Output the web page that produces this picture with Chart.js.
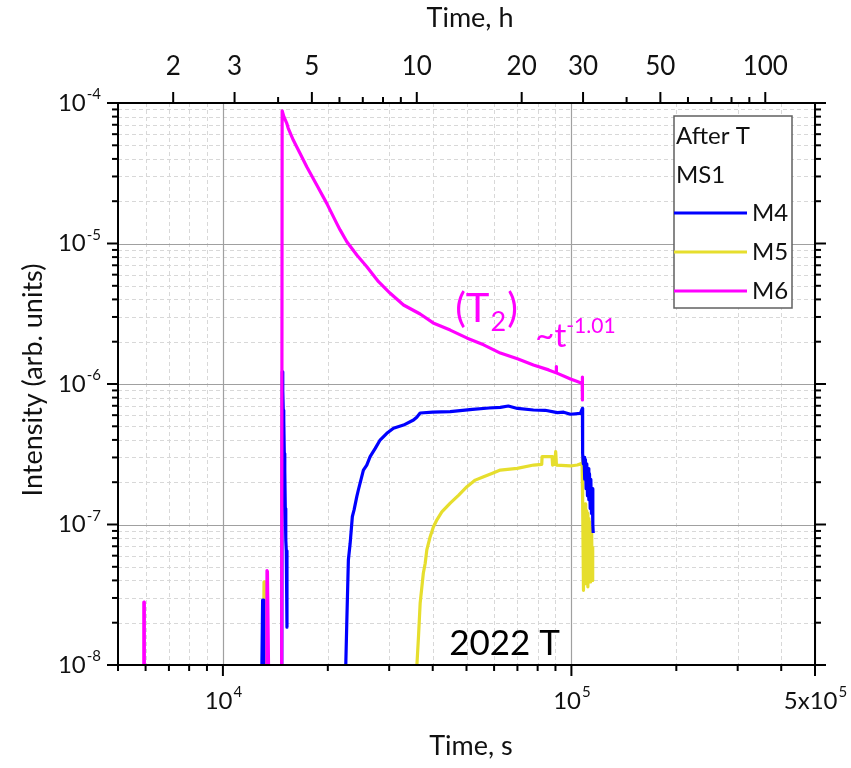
<!DOCTYPE html>
<html>
<head>
<meta charset="utf-8">
<script src="https://cdn.jsdelivr.net/npm/chart.js@4.4.1/dist/chart.umd.min.js"></script>
<style>
  body { margin: 0; background: #fff; }
  canvas { display: block; }
</style>
</head>
<body>
<canvas id="myChart" width="851" height="768"></canvas>
<script>
// time in s, intensity in arb. units (values below 1e-8 sit under the axis)
const m4Time = [12900, 13000, 13050, 13100, 14750, 14800, 14850, 14900, 14950, 15000, 15050, 15100, 15150, 15200, 15270, 15300,
  22450, 22520, 22680, 22910, 23180, 23520, 23790, 24220, 24470, 25300, 25870, 26450, 27360, 28250, 29530, 30860, 32980,
  35230, 36000, 36810, 40000, 44900, 52000, 58000, 62520, 65910, 70000, 77800, 84000, 91150, 95000, 99400, 106150, 107550,
  107700, 108200, 108700, 109200, 109700, 110200, 110700, 111200, 111700, 112200, 112700, 113200, 113700, 114200, 114700,
  115200, 115500];
const m4Int = [5e-9, 2.9e-8, 2.9e-8, 5e-9, 5e-9, 1.22e-6, 9e-7, 6.5e-7, 5.5e-7, 3.2e-7, 2.4e-7, 1.3e-7, 7.8e-8, 6.5e-8, 1.86e-8, null,
  5e-9, 1.0e-8, 2.09e-8, 5.59e-8, 7.35e-8, 1.14e-7, 1.27e-7, 1.58e-7, 1.76e-7, 2.44e-7, 2.65e-7, 3.04e-7, 3.48e-7, 3.99e-7, 4.46e-7, 4.84e-7, 5.1e-7,
  5.54e-7, 5.8e-7, 6.22e-7, 6.3e-7, 6.35e-7, 6.6e-7, 6.75e-7, 6.82e-7, 6.97e-7, 6.7e-7, 6.53e-7, 6.5e-7, 6.25e-7, 6.3e-7, 6.09e-7, 6.18e-7, 6.71e-7,
  3.2e-7, 2.7e-7, 3.0e-7, 2.1e-7, 2.9e-7, 1.8e-7, 2.7e-7, 1.6e-7, 2.5e-7, 1.5e-7, 2.3e-7, 1.3e-7, 2.1e-7, 1.2e-7, 1.8e-7,
  1.0e-7, 8.7e-8];

const m5Time = [13050, 13120, 13180, 13250, 35900, 36030, 36410, 36810, 37240, 37590, 38060, 38470, 39330, 40170, 41120, 42480,
  44900, 47490, 50150, 52980, 55980, 59130, 62520, 69870, 77950, 82200, 82380, 88030, 88300, 89600, 90130, 90600, 99400,
  104000, 107330, 107550, 107900, 108300, 108700, 109100, 109500, 109900, 110300, 110700, 111100, 111500, 111900, 112300,
  112700, 113100, 113500, 113900, 114300, 114700, 115100];
const m5Int = [5e-9, 3.9e-8, 3.5e-8, 5e-9, 5e-9, 1.0e-8, 1.59e-8, 2.75e-8, 3.61e-8, 4.5e-8, 5.3e-8, 6.6e-8, 8.19e-8, 9.6e-8, 1.08e-7, 1.23e-7,
  1.42e-7, 1.62e-7, 1.86e-7, 2.07e-7, 2.19e-7, 2.31e-7, 2.44e-7, 2.51e-7, 2.65e-7, 2.68e-7, 3.04e-7, 3.04e-7, 2.65e-7, 2.7e-7, 3.3e-7, 2.65e-7, 2.61e-7,
  2.65e-7, 2.73e-7, 3.04e-7, 1.4e-7, 3.4e-8, 1.3e-7, 5e-8, 1.4e-7, 3.8e-8, 1.25e-7, 4.6e-8, 1.2e-7, 3.6e-8, 1.1e-7, 4.2e-8,
  1.05e-7, 3.9e-8, 9.5e-8, 4.4e-8, 9e-8, 4e-8, 7e-8];

const m6Time = [5000, 5925, 5930, 5945, 5950, 13300, 13380, 13420, 13560, 14740, 14790, 14960, 15240, 15400, 15920, 16280, 16640,
  17400, 18590, 19860, 21210, 21690, 22680, 24220, 25880, 27960, 30200, 32980, 36810, 40120, 44900, 50240, 55980, 62520,
  70000, 77800, 86000, 90400, 90500, 90600, 99400, 104000, 107400, 107500, 107600];
const m6Int = [5e-9, 5e-9, 2.8e-8, 2.8e-8, 5e-9, 5e-9, 4.7e-8, 4.6e-8, 5e-9, 5e-9, 8.8e-5, 7.99e-5, 7.2e-5, 6.61e-5, 5.45e-5, 4.89e-5, 4.39e-5,
  3.52e-5, 2.61e-5, 1.93e-5, 1.39e-5, 1.25e-5, 1.03e-5, 8.28e-6, 6.84e-6, 5.35e-6, 4.42e-6, 3.65e-6, 3.15e-6, 2.72e-6, 2.42e-6, 2.12e-6, 1.9e-6, 1.66e-6,
  1.51e-6, 1.365e-6, 1.26e-6, 1.2e-6, 1.33e-6, 1.2e-6, 1.085e-6, 1.04e-6, 1.01e-6, 1.12e-6, 7.7e-7];

// axis ticks
const xTicks = [1e4, 1e5, 5e5];
const xTickMant = ["10", "10", "5x10"];
const xTickExp = ["4", "5", "5"];
const xMinorTicks = [5000, 6000, 7000, 8000, 9000, 20000, 30000, 40000, 50000, 60000, 70000, 80000, 90000, 200000, 300000, 400000];
const yTicks = [1e-8, 1e-7, 1e-6, 1e-5, 1e-4];
const yTickExp = ["-8", "-7", "-6", "-5", "-4"];
const hourTicks = [2, 3, 5, 10, 20, 30, 50, 100];
const hourMinorTicks = [4, 6, 7, 8, 9, 40, 60, 70, 80, 90];

const FONT = "Lato, 'Open Sans', sans-serif";
const MAGENTA = "rgb(255, 0, 255)";

const yMinorTicks = [];
yTicks.slice(0, -1).forEach((d) => {
  for (let k = 2; k <= 9; k++) yMinorTicks.push(d * k);
});

function pts(ts, vs) {
  return ts.map((t, i) => ({ x: t, y: vs[i] }));
}

function font(size) {
  return size + "px " + FONT;
}

// "10" with a raised exponent; align = left | center | right
function drawPow(ctx, mant, exp, x, y, align, size, supSize) {
  ctx.font = font(size);
  const w1 = ctx.measureText(mant).width;
  ctx.font = font(supSize);
  const w2 = ctx.measureText(exp).width;
  let x0 = x;
  if (align === "center") x0 = x - (w1 + w2) / 2;
  if (align === "right") x0 = x - (w1 + w2);
  ctx.textAlign = "left";
  ctx.textBaseline = "middle";
  ctx.font = font(size);
  ctx.fillText(mant, x0, y);
  ctx.font = font(supSize);
  ctx.fillText(exp, x0 + w1 + 1, y - size * 0.36);
}

function seg(ctx, x1, y1, x2, y2) {
  ctx.beginPath();
  ctx.moveTo(x1, y1);
  ctx.lineTo(x2, y2);
  ctx.stroke();
}

const axesPlugin = {
  id: "axes",
  beforeDatasetsDraw(chart) {
    const { ctx, chartArea: a } = chart;
    const sx = chart.scales.x, sy = chart.scales.y;
    ctx.save();
    ctx.lineWidth = 1;
    ctx.setLineDash([4, 3]);
    ctx.strokeStyle = "#d8d8d8";
    xMinorTicks.forEach((v) => {
      const p = Math.round(sx.getPixelForValue(v)) + 0.5;
      seg(ctx, p, a.top, p, a.bottom);
    });
    yMinorTicks.forEach((v) => {
      const p = Math.round(sy.getPixelForValue(v)) + 0.5;
      seg(ctx, a.left, p, a.right, p);
    });
    ctx.setLineDash([]);
    ctx.strokeStyle = "#a0a0a0";
    ctx.lineWidth = 1.2;
    xTicks.forEach((v) => {
      const p = Math.round(sx.getPixelForValue(v)) + 0.5;
      seg(ctx, p, a.top, p, a.bottom);
    });
    yTicks.forEach((v) => {
      const p = Math.round(sy.getPixelForValue(v)) + 0.5;
      seg(ctx, a.left, p, a.right, p);
    });
    ctx.restore();
  },
  afterDatasetsDraw(chart) {
    const { ctx, chartArea: a } = chart;
    const sx = chart.scales.x, sy = chart.scales.y, sh = chart.scales.xh;
    ctx.save();
    ctx.strokeStyle = "#000";
    ctx.fillStyle = "#000";
    ctx.lineWidth = 2;
    ctx.strokeRect(a.left, a.top, a.right - a.left, a.bottom - a.top);

    // bottom and top ticks
    xTicks.forEach((v) => {
      const p = sx.getPixelForValue(v);
      seg(ctx, p, a.bottom, p, a.bottom + 11);
    });
    xMinorTicks.forEach((v) => {
      const p = sx.getPixelForValue(v);
      seg(ctx, p, a.bottom, p, a.bottom + 6);
    });
    hourTicks.forEach((v) => {
      const p = sh.getPixelForValue(v);
      seg(ctx, p, a.top, p, a.top - 11);
    });
    hourMinorTicks.forEach((v) => {
      const p = sh.getPixelForValue(v);
      seg(ctx, p, a.top, p, a.top - 6);
    });
    // left and right ticks
    yTicks.forEach((v) => {
      const p = sy.getPixelForValue(v);
      seg(ctx, a.left, p, a.left - 11, p);
      seg(ctx, a.right, p, a.right + 11, p);
    });
    yMinorTicks.forEach((v) => {
      const p = sy.getPixelForValue(v);
      seg(ctx, a.left, p, a.left - 6, p);
      seg(ctx, a.right, p, a.right + 6, p);
    });

    // tick labels
    ctx.fillStyle = "#111";
    yTicks.forEach((v, i) => {
      drawPow(ctx, "10", yTickExp[i], a.left - 18, sy.getPixelForValue(v), "right", 24, 15);
    });
    xTicks.forEach((v, i) => {
      drawPow(ctx, xTickMant[i], xTickExp[i], sx.getPixelForValue(v), a.bottom + 36, "center", 24, 15);
    });
    ctx.font = font(26);
    ctx.textAlign = "center";
    ctx.textBaseline = "middle";
    hourTicks.forEach((v) => {
      ctx.fillText(String(v), sh.getPixelForValue(v), a.top - 36);
    });

    // axis titles
    ctx.font = font(27);
    ctx.fillText("Time, s", 471, 746);
    ctx.fillText("Time, h", 470, 18);
    ctx.translate(33, 380);
    ctx.rotate(-Math.PI / 2);
    ctx.fillText("Intensity (arb. units)", 0, 0);
    ctx.restore();
  },
};

// text notes, anchored in data space (t in s, intensity)
const notesPlugin = {
  id: "notes",
  afterDatasetsDraw(chart) {
    const { ctx } = chart;
    const sx = chart.scales.x, sy = chart.scales.y;
    ctx.save();
    ctx.textAlign = "left";
    ctx.textBaseline = "alphabetic";

    // (T2)
    let x = sx.getPixelForValue(46400), y = sy.getPixelForValue(2.76e-6);
    ctx.fillStyle = MAGENTA;
    ctx.font = font(40);
    ctx.fillText("(T", x, y);
    x += ctx.measureText("(T").width;
    ctx.font = font(27);
    ctx.fillText("2", x + 1, y + 9);
    x += ctx.measureText("2").width + 2;
    ctx.font = font(40);
    ctx.fillText(")", x, y);

    // ~t^-1.01
    x = sx.getPixelForValue(78800);
    y = sy.getPixelForValue(1.83e-6);
    ctx.font = font(33);
    ctx.fillText("~t", x, y);
    x += ctx.measureText("~t").width;
    ctx.font = font(21);
    ctx.fillText("-1.01", x, y - 14);

    // 2022 T
    ctx.fillStyle = "#000";
    ctx.font = font(35);
    ctx.fillText("2022 T", sx.getPixelForValue(44600), sy.getPixelForValue(1.18e-8));
    ctx.restore();
  },
};

const legendPlugin = {
  id: "boxLegend",
  afterDraw(chart) {
    const { ctx } = chart;
    const left = 674, top = 116, w = 118, h = 192;
    ctx.save();
    ctx.fillStyle = "#fff";
    ctx.fillRect(left, top, w, h);
    ctx.strokeStyle = "#606060";
    ctx.lineWidth = 1.5;
    ctx.strokeRect(left, top, w, h);
    ctx.fillStyle = "#111";
    ctx.font = font(24);
    ctx.textAlign = "left";
    ctx.textBaseline = "middle";
    ctx.fillText("After T", left + 2, top + 20);
    ctx.fillText("MS1", left + 2, top + 59);
    chart.data.datasets.forEach((ds, i) => {
      const yy = top + 97 + i * 39;
      ctx.strokeStyle = ds.borderColor;
      ctx.lineWidth = 3;
      seg(ctx, left, yy, left + 73, yy);
      ctx.fillStyle = "#111";
      ctx.fillText(ds.label, left + 78, yy);
    });
    ctx.restore();
  },
};

const ctx = document.getElementById("myChart").getContext("2d");
const myChart = new Chart(ctx, {
  type: "line",
  data: {
    datasets: [
      {
        label: "M4",
        data: pts(m4Time, m4Int),
        borderColor: "rgb(0, 0, 255)",
        order: 1,
      },
      {
        label: "M5",
        data: pts(m5Time, m5Int),
        borderColor: "rgb(230, 222, 45)",
        order: 2,
      },
      {
        label: "M6",
        data: pts(m6Time, m6Int),
        borderColor: MAGENTA,
        order: 0,
      },
    ],
  },
  options: {
    responsive: false,
    animation: false,
    layout: { padding: { left: 118, right: 36, top: 103, bottom: 103 } },
    elements: {
      point: { radius: 0 },
      line: { borderWidth: 3.2, tension: 0, borderJoinStyle: "round" },
    },
    datasets: { line: { clip: 0, spanGaps: false } },
    plugins: {
      legend: { display: false },
      tooltip: { enabled: false },
    },
    scales: {
      x: { type: "logarithmic", position: "bottom", min: 5000, max: 500000, display: false },
      y: { type: "logarithmic", position: "left", min: 1e-8, max: 1e-4, display: false },
      xh: { type: "logarithmic", position: "top", min: 5000 / 3600, max: 500000 / 3600, display: false },
    },
  },
  plugins: [axesPlugin, notesPlugin, legendPlugin],
});
</script>
</body>
</html>
